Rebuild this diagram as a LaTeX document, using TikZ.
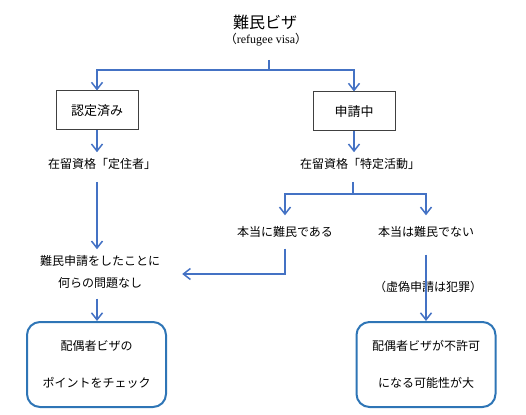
\documentclass[tikz,border=0pt]{standalone}
\usepackage{fontspec}
\setmainfont{Noto Sans CJK JP}
\newfontfamily\latinserif{Liberation Serif}
\usepackage{tikz}
\usetikzlibrary{arrows.meta}

\definecolor{lineblue}{HTML}{4472C4}
\definecolor{boxblue}{HTML}{2E75B6}
\definecolor{boxgray}{HTML}{404040}

\begin{document}
\begin{tikzpicture}[x=1pt,y=-1pt,
  ln/.style={draw=lineblue,line width=1.5pt},
  arr/.style={ln,-{Straight Barb[length=7pt,width=11pt]}},
  txt/.style={font=\fontsize{12}{22}\selectfont,inner xsep=0pt,inner ysep=6pt,align=center},
  sq/.style={draw=boxgray,line width=1pt,minimum width=82pt,minimum height=39pt,font=\fontsize{13}{15}\selectfont},
  rbox/.style={draw=boxblue,line width=2pt,rounded corners=13pt,minimum width=139pt,minimum height=85pt,align=center,font=\fontsize{12}{37}\selectfont}]
\useasboundingbox (0,0) rectangle (526,414);
\node (T) [font=\fontsize{16}{18}\selectfont] at (265,22) {難民ビザ};
\node (E) [font=\fontsize{12}{14}\selectfont] at (266,40) {（{\latinserif refugee visa}）};
\coordinate (t0) at (269,60);
\coordinate (t1) at (269,70);
\node (N) [sq] at (97,110.5) {認定済み};
\node (S) [sq] at (354,111.5) {申請中};
\node (L1) [txt] at (102,164) {在留資格「定住者」};
\node (R1) [txt] at (360,164) {在留資格「特定活動」};
\coordinate (b) at (353,194);
\node (R2) [txt,inner ysep=11pt] at (285,232) {本当に難民である};
\node (R3) [txt,inner ysep=11pt] at (426,232) {本当は難民でない};
\node (L2) [txt] at (100,272) {難民申請をしたことに\\何らの問題なし};
\node (K) [txt] at (428,287) {（虚偽申請は犯罪）};
\node (C1) [rbox] at (96.5,364.5) {配偶者ビザの\\ポイントをチェック};
\node (C2) [rbox] at (426,364.5) {配偶者ビザが不許可\\になる可能性が大};
\draw [ln] (t0) -- (t1);
\draw [arr] (t1) -| (N.north);
\draw [arr] (t1) -| (S.north);
\draw [arr] (N.south) -- (N.south |- L1.north);
\draw [arr] (S.south) -- (S.south |- R1.north);
\draw [arr,shorten <=6pt] (N.south |- L1.south) -- (N.south |- L2.north);
\draw [arr,shorten <=4pt] (N.south |- L2.south) -- (N.south |- C1.north);
\draw [ln,shorten <=6pt] (b |- R1.south) -- (b);
\draw [arr] (b) -| (R2.north);
\draw [arr] (b) -| (R3.north);
\draw [arr,shorten >=22pt] (R2.south) |- ([yshift=-2pt]L2.east);
\draw [arr,shorten <=6pt] (R3.south) -- (C2.north);
\end{tikzpicture}
\end{document}
